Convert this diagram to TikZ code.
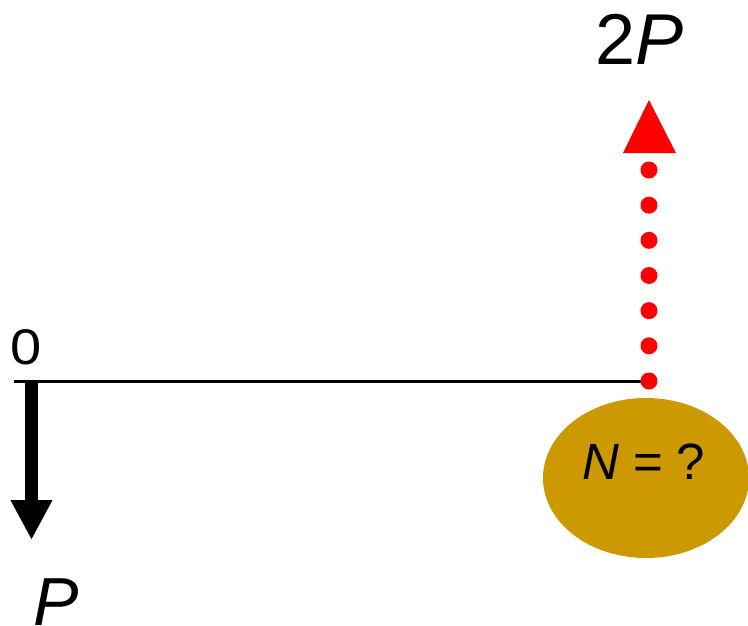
\documentclass[tikz,border=0pt]{standalone}
\usepackage{fontspec}
\setmainfont{Liberation Sans}
\usetikzlibrary{shapes.geometric,arrows.meta,calc}
\definecolor{gold}{HTML}{CC9900}
\begin{document}
\begin{tikzpicture}[x=1pt,y=-1pt,
  lbl/.style={anchor=base west,inner sep=0pt,outer sep=0pt},
  reddot/.style={red,fill=red}]
\useasboundingbox (0,0) rectangle (748,626);
% beam
\coordinate (o) at (14,381);
\coordinate (e) at (649,381);
\draw[line width=3pt] (o) -- (e);
% black load arrow
\coordinate (a1) at (31.5,381);
\coordinate (a2) at (31.5,540);
\draw[line width=13pt,-{Triangle[width=39pt,length=40pt]}] (a1) -- (a2);
% red dotted reaction
\coordinate (r2) at (649,170);
\foreach \k in {0,...,6}{
  \fill[reddot] ($(e)!\k/6!(r2)$) circle (8.5pt);
}
\fill[red] (623,153) -- (649,100) -- (676,153) -- cycle;
% support ellipse
\node[ellipse,fill=gold,minimum width=206pt,minimum height=160pt,inner sep=0pt] (sup) at (646,478) {};
% labels
\node[lbl] (zero) at (10,364.5) {\scalebox{1.12}[1]{\fontsize{50}{56}\selectfont 0}};
\node[lbl] (p) at (34,625) {\fontsize{68}{76}\selectfont\itshape P};
\node[lbl] (tp) at (595,65) {\fontsize{72}{80}\selectfont 2\textit{P}};
\node[lbl] (nq) at (582,479) {\fontsize{51}{56}\selectfont\textit{N} = ?};
\end{tikzpicture}
\end{document}
